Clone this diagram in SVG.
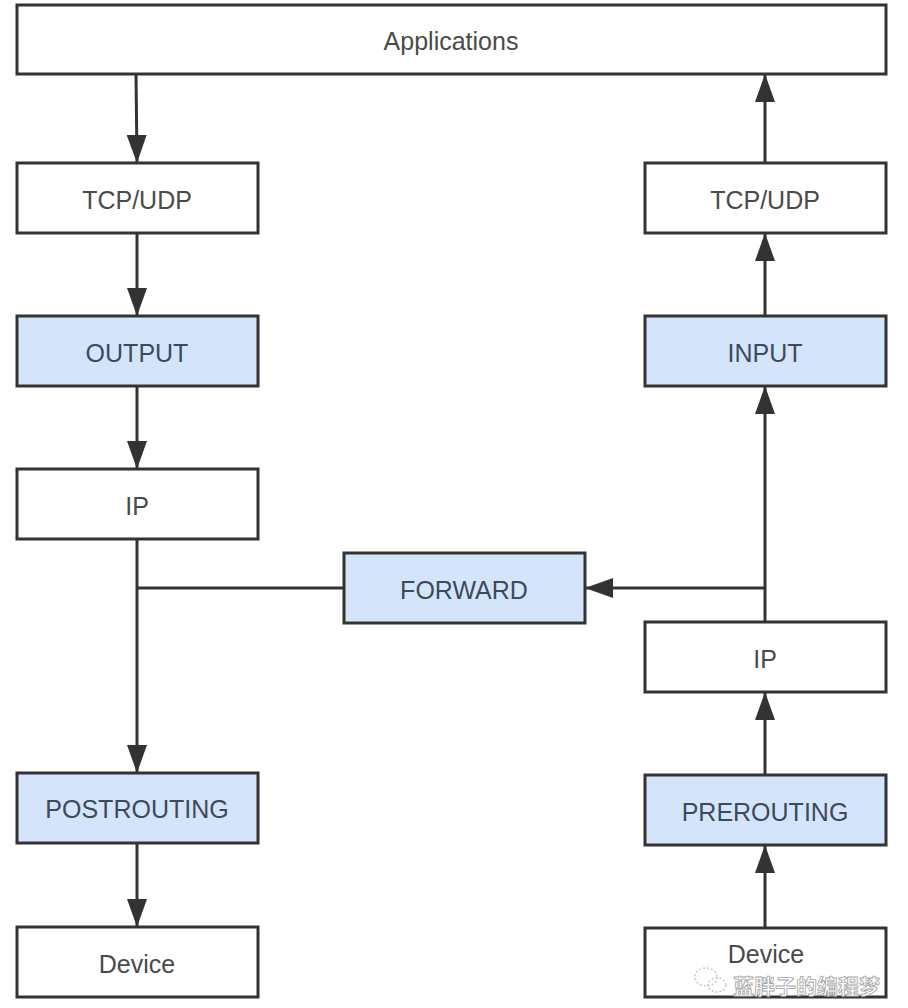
<svg xmlns="http://www.w3.org/2000/svg" width="908" height="1008" viewBox="0 0 908 1008">
<style>
.box{fill:#ffffff;stroke:#333333;stroke-width:3}
.hook{fill:#d4e5fb;stroke:#333333;stroke-width:3}
.lbl{font-family:"Liberation Sans",Arial,sans-serif;font-size:25px;fill:#4a4a4a;text-anchor:middle;dominant-baseline:central}
.hlbl{fill:#3d4a5a}
.edge{fill:none;stroke:#333333;stroke-width:3}
.wm{font-family:"Noto Sans CJK SC",sans-serif;font-size:21px;font-weight:bold;fill:#ffffff;stroke:#9a9a9a;stroke-width:0.8;opacity:0.9}
</style>
<defs>
<marker id="arr" markerWidth="28" markerHeight="20" refX="28" refY="10" orient="auto" markerUnits="userSpaceOnUse">
<path d="M0,0 L28,10 L0,20 Z" fill="#333333"/>
</marker>
</defs>
<rect width="908" height="1008" fill="#ffffff"/>
<g id="connectors">
<path class="edge" d="M136,74 L137,163" marker-end="url(#arr)"/>
<path class="edge" d="M137,233 L137,316" marker-end="url(#arr)"/>
<path class="edge" d="M137,386 L137,469" marker-end="url(#arr)"/>
<path class="edge" d="M137,539 L137,773" marker-end="url(#arr)"/>
<path class="edge" d="M137,588 L344,588"/>
<path class="edge" d="M137,843 L137,927" marker-end="url(#arr)"/>
<path class="edge" d="M765,928 L765,845" marker-end="url(#arr)"/>
<path class="edge" d="M765,775 L765,692" marker-end="url(#arr)"/>
<path class="edge" d="M765,622 L765,386" marker-end="url(#arr)"/>
<path class="edge" d="M765,588 L585,588" marker-end="url(#arr)"/>
<path class="edge" d="M765,316 L765,233" marker-end="url(#arr)"/>
<path class="edge" d="M765,163 L765,74" marker-end="url(#arr)"/>
</g>
<g id="applications"><rect class="box" x="17" y="5" width="869" height="69"/><text class="lbl" x="451" y="41">Applications</text></g>
<g id="tcpudp-out"><rect class="box" x="17" y="163" width="241" height="70"/><text class="lbl" x="137" y="200">TCP/UDP</text></g>
<g id="output"><rect class="hook" x="17" y="316" width="241" height="70"/><text class="lbl hlbl" x="137" y="353">OUTPUT</text></g>
<g id="ip-out"><rect class="box" x="17" y="469" width="241" height="70"/><text class="lbl" x="137" y="506">IP</text></g>
<g id="postrouting"><rect class="hook" x="17" y="773" width="241" height="70"/><text class="lbl hlbl" x="137" y="809">POSTROUTING</text></g>
<g id="device-out"><rect class="box" x="17" y="927" width="241" height="70"/><text class="lbl" x="137" y="964">Device</text></g>
<g id="forward"><rect class="hook" x="344" y="553" width="241" height="70"/><text class="lbl hlbl" x="464" y="590">FORWARD</text></g>
<g id="tcpudp-in"><rect class="box" x="645" y="163" width="241" height="70"/><text class="lbl" x="765" y="200">TCP/UDP</text></g>
<g id="input"><rect class="hook" x="645" y="316" width="241" height="70"/><text class="lbl hlbl" x="765" y="353">INPUT</text></g>
<g id="ip-in"><rect class="box" x="645" y="622" width="241" height="70"/><text class="lbl" x="765" y="659">IP</text></g>
<g id="prerouting"><rect class="hook" x="645" y="775" width="241" height="70"/><text class="lbl hlbl" x="765" y="812">PREROUTING</text></g>
<g id="device-in"><rect class="box" x="645" y="928" width="241" height="69"/><text class="lbl" x="766" y="954">Device</text></g>
<g id="watermark">
<ellipse cx="706" cy="977" rx="11" ry="9" fill="none" stroke="#c8c8c8" stroke-width="1.5" stroke-dasharray="2 2"/>
<ellipse cx="717" cy="985" rx="9" ry="7" fill="none" stroke="#c8c8c8" stroke-width="1.5" stroke-dasharray="2 2"/>
<text class="wm" x="733" y="994">蓝胖子的编程梦</text>
</g>
</svg>
